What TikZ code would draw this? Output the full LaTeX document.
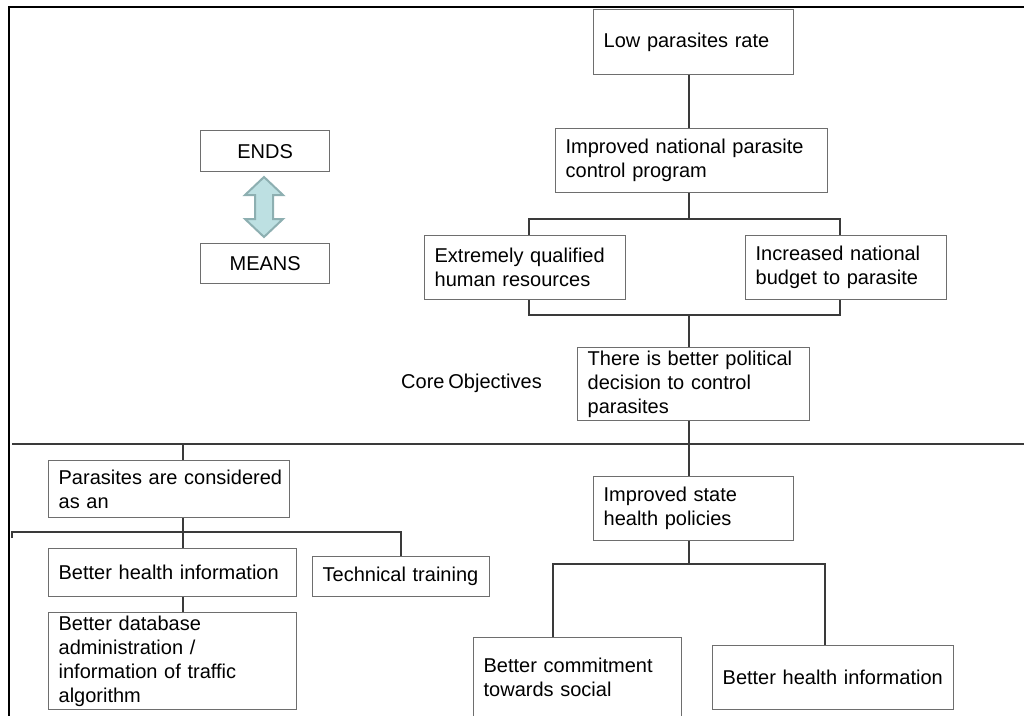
\documentclass[tikz,border=0pt]{standalone}
\usepackage{fontspec}
\setmainfont{Liberation Sans}[WordSpace=0.7]
\begin{document}
\begin{tikzpicture}[x=1pt,y=-1pt,
  every node/.style={font=\fontsize{20}{24}\selectfont, text=black},
  bx/.style={draw=boxgray, line width=1.3pt, inner xsep=10pt, inner ysep=1pt,
    align=left, anchor=north west,
    execute at begin node={\hyphenpenalty=10000\exhyphenpenalty=10000\hbadness=10000\hfuzz=20pt}},
  cbx/.style={draw=boxgray, line width=1.3pt, inner sep=1pt, align=center, anchor=north west},
  conn/.style={draw=linegray, line width=1.3pt},
  frame/.style={draw=black, line width=2.5pt},
  dblarrow/.style={fill=arrowfill, draw=arrowedge, line width=2pt, line join=miter}
]
\definecolor{boxgray}{HTML}{6E6E6E}
\definecolor{linegray}{HTML}{3A3A3A}
\definecolor{arrowfill}{HTML}{BDE0E2}
\definecolor{arrowedge}{HTML}{8DAFB1}

\useasboundingbox (0,0) rectangle (1024,715);
\clip (0,0) rectangle (1024,715);

% outer frame (top and left edges) and the dividing line
\draw[frame] (1024,7) -- (9,7) -- (9,716);
\draw[conn] (12,444) -- (1024,444);

% legend: ends / means
\node[cbx, minimum width=129pt, minimum height=41pt] (ends) at (200,130) {ENDS};
\node[cbx, minimum width=129pt, minimum height=40pt] (means) at (200,243) {MEANS};
\path[dblarrow] (264,177) -- (283,195) -- (273,195) -- (273,219) -- (283,219)
  -- (264,237) -- (245,219) -- (255,219) -- (255,195) -- (245,195) -- cycle;

% upper tree (ends)
\node[bx, minimum height=65pt, text width=180pt] (low) at (593,9) {Low parasites rate};
\node[bx, minimum height=64pt, text width=252pt] (impnat) at (555,128)
  {Improved national parasite\\control program};
\node[bx, minimum height=64pt, text width=181pt] (extreme) at (424,235)
  {Extremely qualified\\human resources};
\node[bx, minimum height=64pt, text width=181pt] (budget) at (745,235)
  {Increased national\\budget to parasite};
\node[bx, minimum height=73pt, text width=212pt] (political) at (577,347)
  {There is better political\\decision to control\\parasites};
\node[anchor=west, inner sep=0pt] (core) at (401,383) {Core Objectives};

% lower tree (means)
\node[bx, minimum height=64pt, text width=180pt] (state) at (593,476)
  {Improved state\\health policies};
\node[bx, minimum height=80pt, text width=188pt] (commit) at (473,637)
  {Better commitment\\towards social};
\node[bx, minimum height=64pt, text width=221pt] (healthR) at (712,645)
  {Better~health~information};

\node[bx, minimum height=57pt, text width=221pt] (parasites) at (48,460)
  {Parasites~are~considered\\as an};
\node[bx, minimum height=48pt, text width=228pt] (healthL) at (48,548)
  {Better~health~information};
\node[bx, minimum height=40pt, text width=157pt] (training) at (312,556)
  {Technical~training};
\node[bx, minimum height=97pt, text width=228pt] (database) at (48,612)
  {Better database\\administration /\\information of traffic\\algorithm};

% junction points
\coordinate (j1) at (689,219);
\coordinate (j2) at (689,315);
\coordinate (j3) at (689,564);
\coordinate (j4) at (183,532);
\coordinate (jtop) at (183,444);
\coordinate (lend) at (12,538);

% connectors, upper tree
\draw[conn] (low.south -| j1) -- (impnat.north -| j1);
\draw[conn] (impnat.south -| j1) -- (j1);
\draw[conn] (extreme.north -| 529,0) |- (j1) -| (budget.north -| 840,0);
\draw[conn] (extreme.south -| 529,0) |- (j2) -| (budget.south -| 840,0);
\draw[conn] (j2) -- (political.north -| j2);
\draw[conn] (political.south -| j2) -- (state.north -| j2);

% connectors, lower right
\draw[conn] (state.south -| j3) -- (j3);
\draw[conn] (commit.north -| 553,0) |- (j3) -| (healthR.north -| 825,0);

% connectors, lower left
\draw[conn] (jtop) -- (parasites.north -| jtop);
\draw[conn] (parasites.south -| j4) -- (healthL.north -| j4);
\draw[conn] (lend) |- (j4) -| (training.north -| 401,0);
\draw[conn] (healthL.south -| j4) -- (database.north -| j4);
\end{tikzpicture}
\end{document}
